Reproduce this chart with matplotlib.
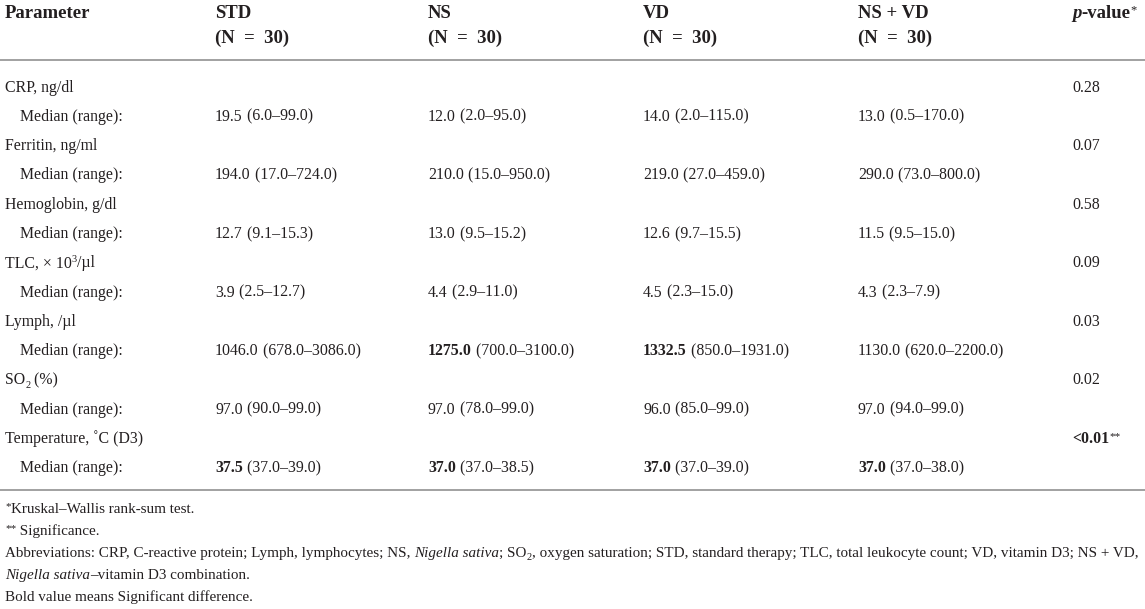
import matplotlib
matplotlib.use("Agg")
import matplotlib.pyplot as plt

# table content
groups = ["STD", "NS", "VD", "NS + VD"]
group_n = ["(N = 30)", "(N = 30)", "(N = 30)", "(N = 30)"]
params = ["CRP, ng/dl", "Ferritin, ng/ml", "Hemoglobin, g/dl", "TLC, \u00d7 10\u00b3/\u00b5l",
          "Lymph, /\u00b5l", "SO\u2082 (%)", "Temperature, \u02daC (D3)"]
std_median = ["19.5", "194.0", "12.7", "3.9", "1046.0", "97.0", "37.5"]
std_range = ["6.0\u201399.0", "17.0\u2013724.0", "9.1\u201315.3", "2.5\u201312.7",
             "678.0\u20133086.0", "90.0\u201399.0", "37.0\u201339.0"]
ns_median = ["12.0", "210.0", "13.0", "4.4", "1275.0", "97.0", "37.0"]
ns_range = ["2.0\u201395.0", "15.0\u2013950.0", "9.5\u201315.2", "2.9\u201311.0",
            "700.0\u20133100.0", "78.0\u201399.0", "37.0\u201338.5"]
vd_median = ["14.0", "219.0", "12.6", "4.5", "1332.5", "96.0", "37.0"]
vd_range = ["2.0\u2013115.0", "27.0\u2013459.0", "9.7\u201315.5", "2.3\u201315.0",
            "850.0\u20131931.0", "85.0\u201399.0", "37.0\u201339.0"]
nsvd_median = ["13.0", "290.0", "11.5", "4.3", "1130.0", "97.0", "37.0"]
nsvd_range = ["0.5\u2013170.0", "73.0\u2013800.0", "9.5\u201315.0", "2.3\u20137.9",
              "620.0\u20132200.0", "94.0\u201399.0", "37.0\u201338.0"]
# which medians are bold (row, group)
bold_cells = [(4, 1), (4, 2), (6, 0), (6, 1), (6, 2), (6, 3)]
p_values = ["0.28", "0.07", "0.58", "0.09", "0.03", "0.02", "<0.01"]
p_bold = [False, False, False, False, False, False, True]

W, H = 1145, 609
FAM = ["Liberation Serif", "DejaVu Serif"]
INK = "#231f20"
BODY = 11.4
HEAD = 13.5
FN = 10.9

fig = plt.figure(figsize=(W / 100, H / 100), dpi=100)
fig.patch.set_facecolor("white")
renderer = fig.canvas.get_renderer()


def put(x, y, segs):
    '''segs: list of (text, size, weight, style, rise); x, y in pixels from top-left'''
    for txt, fs, wt, st, rise in segs:
        t = fig.text(x / W, 1 - (y - rise) / H, txt, fontsize=fs, fontweight=wt,
                     fontstyle=st, family=FAM, color=INK, ha="left", va="baseline")
        x += t.get_window_extent(renderer).width
    return x


def seg(txt, fs=BODY, wt="normal", st="normal", rise=0):
    return (txt, fs, wt, st, rise)


def hline(y):
    fig.add_artist(plt.Line2D([0, 1], [1 - y / H, 1 - y / H], color="#9a9a9a", lw=1.3))


col_x = [215, 428, 643, 858]
p_x = 1072

# header
put(5, 18, [seg("Parameter", HEAD, "bold")])
for i, g in enumerate(groups):
    put(col_x[i], 18, [seg(g, HEAD, "bold")])
    put(col_x[i], 43, [seg(group_n[i].replace(" = ", "\u2002=\u2002"), HEAD, "bold")])
put(p_x, 18, [seg("p", HEAD, "bold", "italic"), seg("-value", HEAD, "bold"),
              seg("*", 9, "normal", rise=5)])
hline(60)

medians = [std_median, ns_median, vd_median, nsvd_median]
ranges = [std_range, ns_range, vd_range, nsvd_range]
y0, dy = 91.5, 29.3
for r, name in enumerate(params):
    ya = y0 + 2 * r * dy
    yb = ya + dy
    if name.startswith("TLC"):
        put(5, ya, [seg("TLC, \u00d7 10"), seg("3", 7.5, rise=5), seg("/\u00b5l")])
    elif name.startswith("SO"):
        put(5, ya, [seg("SO"), seg("2", 7.5, rise=-3), seg(" (%)")])
    else:
        put(5, ya, [seg(name)])
    pv = [seg(p_values[r], BODY, "bold" if p_bold[r] else "normal")]
    if p_bold[r]:
        pv.append(seg("**", 8, rise=4))
    put(p_x, ya, pv)
    put(20, yb, [seg("Median (range):")])
    for g in range(4):
        wt = "bold" if (r, g) in bold_cells else "normal"
        put(col_x[g], yb, [seg(medians[g][r], BODY, wt), seg(" (" + ranges[g][r] + ")")])

hline(490)

fy = 513
fdy = 22
put(5, fy, [seg("*", 8, rise=4), seg("Kruskal\u2013Wallis rank-sum test.", FN)])
put(5, fy + fdy, [seg("**", 8, rise=4), seg(" Significance.", FN)])
put(5, fy + 2 * fdy, [seg("Abbreviations: CRP, C-reactive protein; Lymph, lymphocytes; NS, ", FN),
                      seg("Nigella sativa", FN, st="italic"), seg("; SO", FN),
                      seg("2", 7.5, rise=-3),
                      seg(", oxygen saturation; STD, standard therapy; TLC, total leukocyte count; "
                          "VD, vitamin D3; NS + VD,", FN)])
put(5, fy + 3 * fdy, [seg("Nigella sativa", FN, st="italic"),
                      seg("\u2013vitamin D3 combination.", FN)])
put(5, fy + 4 * fdy, [seg("Bold value means Significant difference.", FN)])

fig.savefig("out.png", dpi=100)
